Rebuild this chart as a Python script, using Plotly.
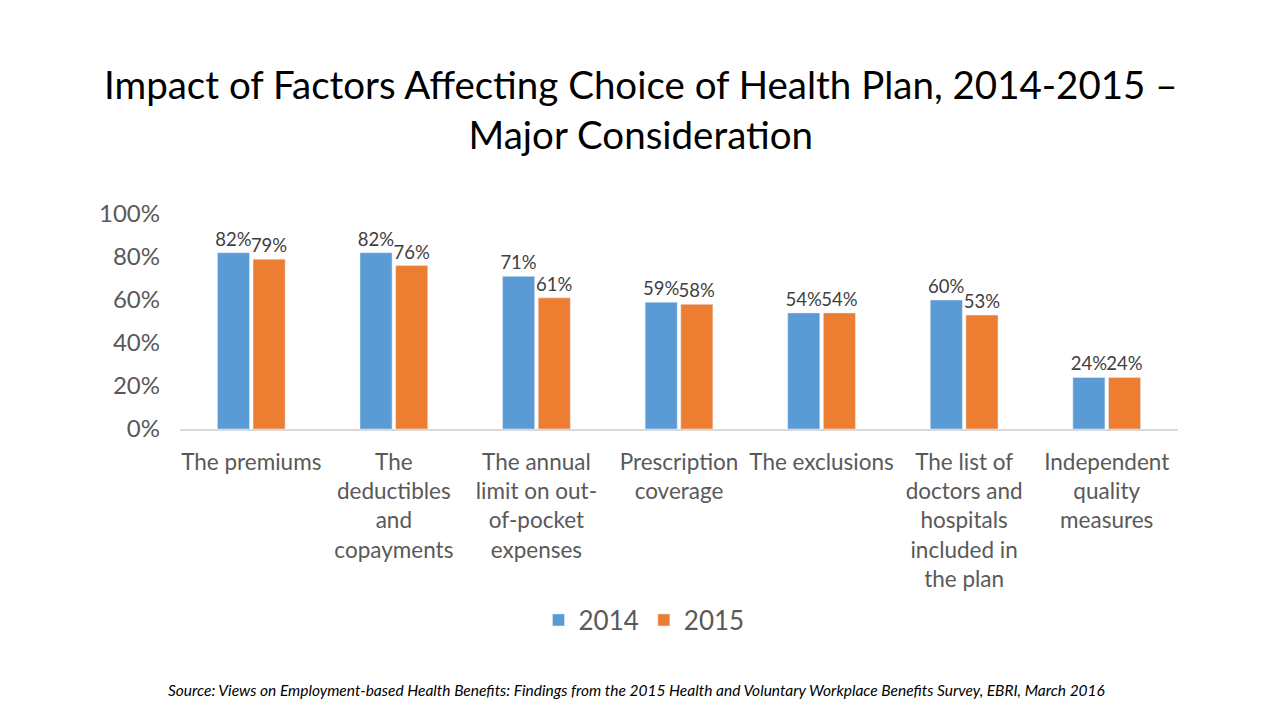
import plotly.graph_objects as go

categories = [
    "The premiums",
    "The<br>deductibles<br>and<br>copayments",
    "The annual<br>limit on out-<br>of-pocket<br>expenses",
    "Prescription<br>coverage",
    "The exclusions",
    "The list of<br>doctors and<br>hospitals<br>included in<br>the plan",
    "Independent<br>quality<br>measures",
]
values_2014 = [0.82, 0.82, 0.71, 0.59, 0.54, 0.60, 0.24]
values_2015 = [0.79, 0.76, 0.61, 0.58, 0.54, 0.53, 0.24]
series_names = ["2014", "2015"]
colors = ["#5B9BD5", "#ED7D31"]
title_text = "Impact of Factors Affecting Choice of Health Plan, 2014-2015 –<br>Major Consideration"
source_text = "Source: Views on Employment-based Health Benefits: Findings from the 2015 Health and Voluntary Workplace Benefits Survey, EBRI, March 2016"

FONT = "Lato, 'Open Sans', sans-serif"

# page offset (body margin) compensation
OFF = 8
PL, PR, PT, PB = 180, 1178, 214, 429  # plot area in page pixels
PW, PH = PR - PL, PB - PT

def px(x):
    return (x - PL) / PW

def py(y):
    return (PB - y) / PH

fig = go.Figure()
for name, vals, col in zip(series_names, [values_2014, values_2015], colors):
    fig.add_trace(go.Bar(
        x=categories, y=vals, name=name, marker_color=col,
        text=[f"{round(v*100)}%" for v in vals], textposition="outside",
        constraintext="none",
        textfont=dict(size=18.5, color="#404040", family=FONT),
        cliponaxis=False,
    ))

fig.update_layout(
    width=1280, height=720,
    paper_bgcolor="white", plot_bgcolor="white",
    margin=dict(l=PL - OFF, r=1280 - PW - (PL - OFF), t=PT - OFF,
                b=720 - PH - (PT - OFF), autoexpand=False),
    barmode="group", bargap=0.5, bargroupgap=0.1,
    font=dict(family=FONT, color="#595959"),
    legend=dict(
        orientation="h", x=px(644), xanchor="center",
        y=py(620), yanchor="middle",
        font=dict(size=26, color="#595959"), itemwidth=30,
    ),
    showlegend=True,
)
fig.update_yaxes(
    range=[0, 1.0], tickvals=[0, 0.2, 0.4, 0.6, 0.8, 1.0], tickformat=".0%",
    showgrid=False, zeroline=False, showline=False, automargin=False,
    tickfont=dict(size=24, color="#595959"), ticks="", ticklabelstandoff=19,
)
fig.update_xaxes(
    showline=True, linecolor="#D9D9D9", linewidth=1.5, automargin=False,
    tickfont=dict(size=22.5, color="#595959"), ticks="", ticklabelstandoff=12,
    tickangle=0,
)
fig.add_annotation(
    text=title_text, xref="paper", yref="paper",
    x=px(641), y=py(109),
    xanchor="center", yanchor="middle", showarrow=False,
    font=dict(size=38.5, color="#000000", family=FONT),
)
fig.add_annotation(
    text=f"<i>{source_text}</i>",
    xref="paper", yref="paper", x=px(636), y=py(690),
    xanchor="center", yanchor="middle",
    showarrow=False, font=dict(size=15.5, color="#000000", family=FONT),
)
fig.write_html("out.html")
